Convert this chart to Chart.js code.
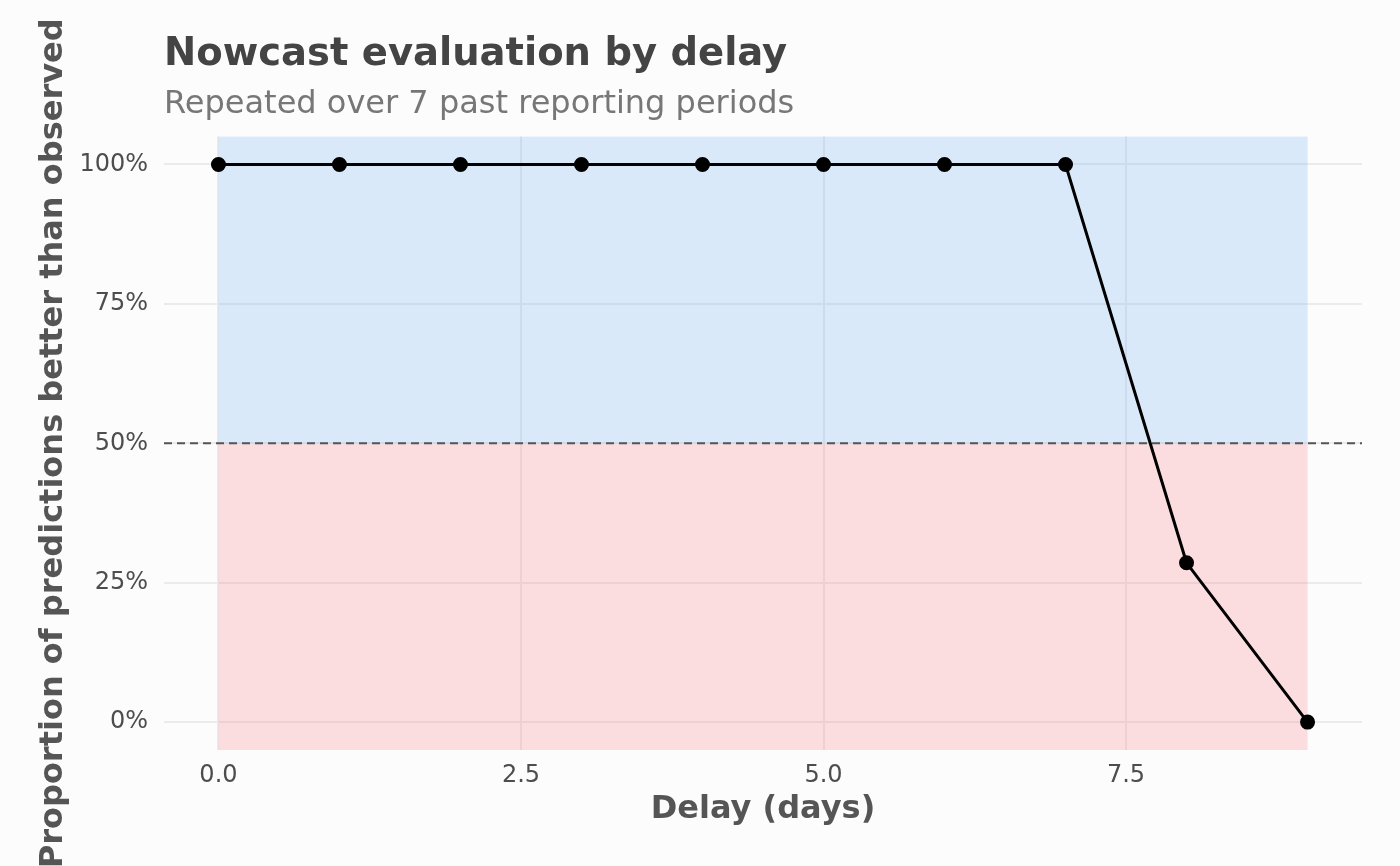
<!DOCTYPE html>
<html lang="en">
<head>
  <meta charset="UTF-8" />
  <title>Nowcast evaluation by delay</title>
  <script src="https://cdn.jsdelivr.net/npm/chart.js"></script>
  <style>
    body { margin: 0; background: #fcfcfc; }
    canvas { display: block; }
  </style>
</head>
<body>
  <canvas id="chart" width="1400" height="866"></canvas>

  <script>
    const delays = [0, 1, 2, 3, 4, 5, 6, 7, 8, 9];
    const propBetter = [1, 1, 1, 1, 1, 1, 1, 1, 0.2857, 0];
    const xTicks = [0, 2.5, 5, 7.5];
    const yTicks = [0, 0.25, 0.5, 0.75, 1];
    const threshold = 0.5;

    const FONT = "'DejaVu Sans', sans-serif";

    // shaded halves + dashed 50% line, drawn after the grid, before the line
    const bands = {
      id: "bands",
      beforeDatasetsDraw(chart) {
        const { ctx, chartArea: a, scales: { x, y } } = chart;
        const x0 = x.getPixelForValue(delays[0]);
        const x1 = x.getPixelForValue(delays[delays.length - 1]);
        const yMid = y.getPixelForValue(threshold);
        ctx.save();
        ctx.fillStyle = "rgba(87,162,247,0.2)";
        ctx.fillRect(x0, a.top, x1 - x0, yMid - a.top);
        ctx.fillStyle = "rgba(252,102,112,0.2)";
        ctx.fillRect(x0, yMid, x1 - x0, a.bottom - yMid);
        ctx.strokeStyle = "#555555";
        ctx.lineWidth = 2;
        ctx.setLineDash([8, 5]);
        ctx.beginPath();
        ctx.moveTo(a.left, yMid);
        ctx.lineTo(a.right, yMid);
        ctx.stroke();
        ctx.restore();
      }
    };

    const bg = {
      id: "bg",
      beforeDraw(chart) {
        const ctx = chart.ctx;
        ctx.save();
        ctx.fillStyle = "#fcfcfc";
        ctx.fillRect(0, 0, chart.width, chart.height);
        ctx.restore();
      }
    };

    new Chart(document.getElementById("chart"), {
      type: "line",
      data: {
        datasets: [{
          data: delays.map((d, i) => ({ x: d, y: propBetter[i] })),
          borderColor: "#000000",
          backgroundColor: "#000000",
          borderWidth: 3,
          pointRadius: 6,
          pointHoverRadius: 6,
          tension: 0
        }]
      },
      options: {
        responsive: false,
        animation: false,
        devicePixelRatio: 1,
        layout: { padding: { left: 0, right: 38, top: 0, bottom: 0 } },
        plugins: {
          legend: { display: false },
          tooltip: { enabled: false },
          title: {
            display: true,
            text: "Nowcast evaluation by delay",
            align: "start",
            fullSize: false,
            color: "#444444",
            font: { family: FONT, size: 38.5, weight: "bold" },
            padding: { top: 32, bottom: 0 }
          },
          subtitle: {
            display: true,
            text: "Repeated over 7 past reporting periods",
            align: "start",
            fullSize: false,
            color: "#777777",
            font: { family: FONT, size: 32 },
            padding: { top: 7, bottom: 13 }
          }
        },
        scales: {
          x: {
            type: "linear",
            min: -0.45,
            max: 9.45,
            afterBuildTicks: s => { s.ticks = xTicks.map(v => ({ value: v })); },
            afterFit: s => { s.height = 116; },
            border: { display: false },
            grid: { color: "#ebebeb", lineWidth: 2, drawTicks: false },
            ticks: {
              padding: 11,
              maxRotation: 0,
              color: "#4d4d4d",
              font: { family: FONT, size: 24 },
              callback: v => v.toFixed(1)
            },
            title: {
              display: true,
              text: "Delay (days)",
              color: "#555555",
              font: { family: FONT, size: 32, weight: "bold" },
              padding: { top: 0, bottom: 37 }
            }
          },
          y: {
            min: -0.05,
            max: 1.05,
            afterBuildTicks: s => { s.ticks = yTicks.map(v => ({ value: v })); },
            afterFit: s => { s.width = 164; },
            border: { display: false },
            grid: { color: "#ebebeb", lineWidth: 2, drawTicks: false },
            ticks: {
              padding: 16,
              color: "#4d4d4d",
              font: { family: FONT, size: 24 },
              callback: v => Math.round(v * 100) + "%"
            },
            title: {
              display: true,
              text: "Proportion of predictions better than observed",
              color: "#555555",
              font: { family: FONT, size: 32, weight: "bold" },
              padding: { top: 34, bottom: 0 }
            }
          }
        }
      },
      plugins: [bg, bands]
    });
  </script>
</body>
</html>
